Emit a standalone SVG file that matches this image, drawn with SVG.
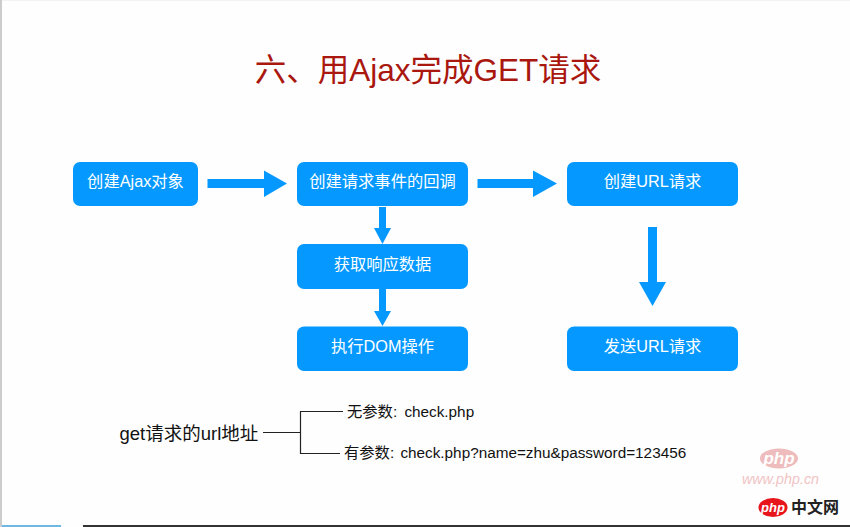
<svg xmlns="http://www.w3.org/2000/svg" width="850" height="527" viewBox="0 0 850 527">
  <style>
    text { font-family: "Liberation Sans", "Noto Sans CJK SC", sans-serif; }
    .box { fill: #0599ff; }
    .label { fill: #ffffff; font-size: 16.300px; text-anchor: middle; }
    .arrow { fill: #0599ff; }
    .tree { fill: none; stroke: #222222; stroke-width: 1.2; }
    .note { fill: #111111; font-size: 15.300px; }
  </style>

  <rect width="850" height="527" fill="#fefefe"/>
  <rect x="0" y="0" width="850" height="1" fill="#f3f3f3"/>
  <rect x="0" y="0" width="2" height="527" fill="#cccccc"/>
  <rect x="2" y="525" width="59" height="2" fill="#6bb9e4"/>
  <rect x="83" y="525" width="767" height="2" fill="#333333"/>

  <text id="title" x="428" y="81" font-size="31.500" fill="#a9170f" text-anchor="middle">六、用Ajax完成GET请求</text>

  <g id="connectors">
    <polygon class="arrow" points="207.500,179 264,179 264,170.500 287,183.500 264,197 264,188 207.500,188"/>
    <polygon class="arrow" points="477.500,179 533,179 533,170.500 557,183.500 533,197 533,188 477.500,188"/>
    <polygon class="arrow" points="379,207 386,207 386,228 391,228 382.500,244 374,228 379,228"/>
    <polygon class="arrow" points="379,289 386,289 386,311 391,311 382.500,326 374,311 379,311"/>
    <polygon class="arrow" points="648,227 657,227 657,282 666,282 652.500,306 639,282 648,282"/>
    <path class="tree" d="M263 432.500H300.500M343 411.500H300.500V453.500H340"/>
  </g>

  <g id="node-create-ajax">
    <rect class="box" x="73" y="162" width="125" height="44" rx="7"/>
    <text class="label" x="135.500" y="187">创建Ajax对象</text>
  </g>
  <g id="node-callback">
    <rect class="box" x="297" y="162" width="171" height="44" rx="7"/>
    <text class="label" x="382.500" y="187">创建请求事件的回调</text>
  </g>
  <g id="node-response">
    <rect class="box" x="297" y="244" width="171" height="45" rx="7"/>
    <text class="label" x="382.500" y="270">获取响应数据</text>
  </g>
  <g id="node-dom">
    <rect class="box" x="297" y="326.500" width="171" height="44.500" rx="7"/>
    <text class="label" x="382.500" y="352">执行DOM操作</text>
  </g>
  <g id="node-create-url">
    <rect class="box" x="567" y="162" width="171" height="44" rx="7"/>
    <text class="label" x="652.500" y="187">创建URL请求</text>
  </g>
  <g id="node-send-url">
    <rect class="box" x="567" y="326.500" width="171" height="44.500" rx="7"/>
    <text class="label" x="652.500" y="352">发送URL请求</text>
  </g>

  <g id="node-url-root">
    <text x="119.500" y="440" font-size="18.500" fill="#111111">get请求的url地址</text>
  </g>
  <g id="node-no-params">
    <text class="note" x="347" y="417">无参数: <tspan dx="3">check.php</tspan></text>
  </g>
  <g id="node-with-params">
    <text class="note" x="344" y="458">有参数: <tspan dx="2">check.php?name=zhu&amp;password=123456</tspan></text>
  </g>

  <g id="site-mark">
    <ellipse cx="779" cy="458.500" rx="19" ry="10" fill="#eebcbc"/>
    <text x="779" y="464" font-size="17" font-weight="bold" font-style="italic" fill="#ffffff" text-anchor="middle">php</text>
    <text x="780.500" y="484" font-size="14.300" font-style="italic" fill="#f0c4c4" text-anchor="middle">www.php.cn</text>
    <ellipse cx="773" cy="507.500" rx="14.500" ry="9.500" fill="#e8141c"/>
    <text x="773" y="512" font-size="13" font-weight="bold" font-style="italic" fill="#ffffff" text-anchor="middle">php</text>
    <text x="791" y="513" font-size="16" font-weight="bold" fill="#222222">中文网</text>
  </g>
</svg>
